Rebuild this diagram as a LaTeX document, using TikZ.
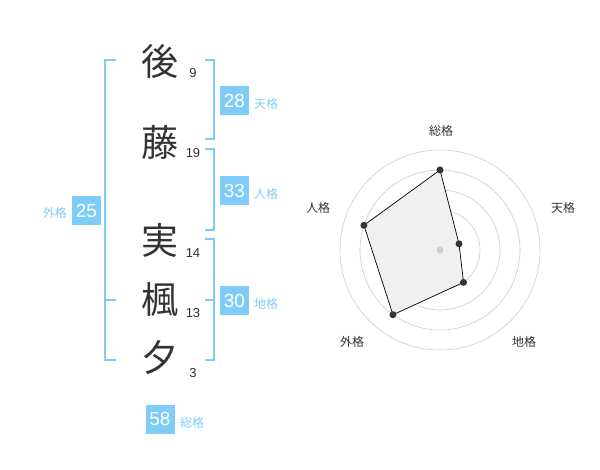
\documentclass[tikz,border=0pt]{standalone}
\usepackage{fontspec}
\setmainfont{Noto Sans CJK JP}
\newfontfamily\numfont{Liberation Sans}
\definecolor{kblue}{HTML}{80CCF8}
\definecolor{kdark}{HTML}{333333}
\definecolor{kgrid}{HTML}{CCCCCC}
\begin{document}
\begin{tikzpicture}[x=1pt,y=-1pt,
  kanji/.style={font=\fontsize{37}{37}\selectfont, text=kdark, inner sep=0pt},
  stroke/.style={font=\numfont\fontsize{13}{13}\selectfont, text=kdark, inner sep=0pt},
  scorebox/.style={fill=kblue, text=white, font=\numfont\fontsize{19}{19}\selectfont, minimum width=29pt, minimum height=29pt, inner sep=0pt},
  kaku/.style={font=\fontsize{12}{12}\selectfont, text=kblue, inner sep=0pt},
  bracket/.style={draw=kblue, line width=2pt},
  axislabel/.style={font=\fontsize{12}{12}\selectfont, text=kdark, inner sep=0pt},
  ring/.style={draw=kgrid, line width=0.6pt},
  dot/.style={circle, fill=kdark, inner sep=0pt, minimum size=7pt},
  poly/.style={draw=black, line width=0.7pt, fill=black!6}
]
\useasboundingbox (0,0) rectangle (600,470);
% kanji
\node[kanji] (k1) at (160,61) {後};
\node[kanji] (k2) at (160,142) {藤};
\node[kanji] (k3) at (160,240) {実};
\node[kanji] (k4) at (160,300) {楓};
\node[kanji] (k5) at (160,358) {夕};
% stroke counts
\node[stroke] (s1) at (193,73) {9};
\node[stroke] (s2) at (193,153) {19};
\node[stroke] (s3) at (193,253) {14};
\node[stroke] (s4) at (193,313) {13};
\node[stroke] (s5) at (193,373) {3};
% brackets
\draw[bracket] (116,60) -- (105,60) -- (105,360) -- (116,360);
\draw[bracket] (105,300) -- (116,300);
\draw[bracket] (205,60) -- (214,60) -- (214,139) -- (205,139);
\draw[bracket] (205,149) -- (214,149) -- (214,230) -- (205,230);
\draw[bracket] (205,239) -- (214,239) -- (214,360) -- (205,360);
\draw[bracket] (205,300) -- (214,300);
% score boxes
\node[scorebox] (ten) at (234.5,100.5) {28};
\node[kaku, anchor=west] (tenl) at (254,104) {天格};
\node[scorebox] (jin) at (234.5,190.5) {33};
\node[kaku, anchor=west] (jinl) at (254,194) {人格};
\node[scorebox] (chi) at (234.5,300.5) {30};
\node[kaku, anchor=west] (chil) at (254,304) {地格};
\node[scorebox] (gai) at (86.5,210.5) {25};
\node[kaku, anchor=east] (gail) at (67,213) {外格};
\node[scorebox] (sou) at (160,419) {58};
\node[kaku, anchor=west] (soul) at (180,423) {総格};
% radar
\coordinate (c) at (440,250);
\foreach \r in {20,40,60,80,100} \draw[ring] (c) circle [radius=\r pt];
\path (c) ++(-90:80) coordinate (pS);
\path (c) ++(-18:20) coordinate (pT);
\path (c) ++(54:40) coordinate (pC);
\path (c) ++(126:80) coordinate (pG);
\path (c) ++(-162:80) coordinate (pJ);
\draw[poly] (pS) -- (pT) -- (pC) -- (pG) -- (pJ) -- cycle;
\fill[kgrid] (c) circle [radius=3.5pt];
\foreach \p in {pS,pT,pC,pG,pJ} \node[dot] (d\p) at (\p) {};
\node[axislabel] (lS) at (441,131) {総格};
\node[axislabel] (lT) at (563,208) {天格};
\node[axislabel] (lC) at (524,342) {地格};
\node[axislabel] (lG) at (352,342) {外格};
\node[axislabel] (lJ) at (318,208) {人格};
\end{tikzpicture}
\end{document}
